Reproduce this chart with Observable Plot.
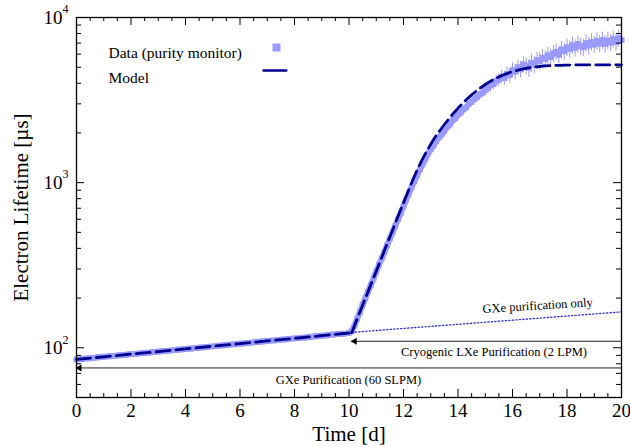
<!DOCTYPE html>
<html><head><meta charset="utf-8">
<script src="https://cdn.jsdelivr.net/npm/d3@7"></script>
<script src="https://cdn.jsdelivr.net/npm/@observablehq/plot@0.6"></script>
<style>body{margin:0;background:#fff} svg{display:block}</style>
</head><body><div id="chart"></div>
<script>
// ---- Data (purity monitor), GXe-only phase ----
const earlyTime = [0,0.2,0.4,0.6,0.8,1.0,1.2,1.4,1.6,1.8,2.0,2.2,2.4,2.6,2.8,3.0,3.2,3.4,3.6,3.8,4.0,4.2,4.4,4.6,4.8,5.0,5.2,5.4,5.6,5.8,6.0,6.2,6.4,6.6,6.8,7.0,7.2,7.4,7.6,7.8,8.0,8.2,8.4,8.6,8.8,9.0,9.2,9.4,9.6,9.8];
const earlyLifetime = [85.0,85.5,86.3,86.8,87.6,88.2,88.8,89.4,90.2,90.7,91.5,92.0,92.8,93.4,94.1,94.8,95.6,96.1,96.9,97.6,98.4,99.0,99.8,100.5,101.3,102.0,102.8,103.5,104.4,105.0,105.9,106.6,107.4,108.3,109.0,109.8,110.7,111.4,112.3,113.1,114.0,114.8,115.6,116.5,117.4,118.3,119.0,120.2,121.0,121.5];

// ---- Data (purity monitor), with cryogenic LXe purification ----
const lateTime = [10.0,10.1,10.2,10.3,10.4,10.5,10.6,10.7,10.8,10.9,11.0,11.1,11.2,11.3,11.4,11.5,11.6,11.7,11.8,11.9,12.0,12.1,12.2,12.3,12.4,12.5,12.6,12.7,12.8,12.9,13.0,13.1,13.2,13.3,13.4,13.5,13.6,13.7,13.8,13.9,14.0,14.1,14.2,14.3,14.4,14.5,14.6,14.7,14.8,14.9,15.0,15.1,15.2,15.3,15.4,15.5,15.6,15.7,15.8,15.9,16.0,16.1,16.2,16.3,16.4,16.5,16.6,16.7,16.8,16.9,17.0,17.1,17.2,17.3,17.4,17.5,17.6,17.7,17.8,17.9,18.0,18.1,18.2,18.3,18.4,18.5,18.6,18.7,18.8,18.9,19.0,19.1,19.2,19.3,19.4,19.5,19.6,19.7,19.8,19.9,20.0];
const lateLifetime = [123,126,136,150,165,182,200,219,240,263,290,318,347,380,418,458,500,548,600,655,720,790,860,940,1020,1110,1200,1290,1390,1500,1590,1680,1780,1880,1960,2060,2170,2250,2380,2450,2580,2650,2780,2850,3000,3080,3200,3300,3420,3500,3650,3720,3900,3950,4150,4200,4380,4300,4550,4480,4800,4700,5000,4850,5200,5100,4950,5300,5200,5500,5450,5700,5600,5900,5750,6050,6200,5950,6400,6250,6600,6450,6800,6550,6900,6700,6600,7000,6750,7100,6850,7200,6950,7300,6900,7250,7050,7400,7100,7500,7300];
const lateError = [3,3,3,4,4,5,5,6,6,7,8,9,10,11,12,13,15,16,18,20,22,24,26,28,31,33,36,39,42,45,48,50,53,56,59,62,65,68,71,74,80,85,90,100,110,120,130,150,170,190,210,240,270,300,330,360,400,420,450,470,500,520,540,560,580,600,610,640,620,660,650,680,670,700,690,720,740,710,760,750,790,770,810,780,830,800,790,840,810,850,820,860,830,870,830,870,850,890,850,900,880];

// ---- Model ----
const modelEarlyTime = [0,1,2,3,4,5,6,7,8,9,10,10.1];
const modelEarlyLifetime = [85,88.2,91.5,94.9,98.5,102.2,106.0,110.0,114.1,118.4,122.9,123.5];
const modelLateTime = [10.1,10.5,11.0,11.5,12.0,12.5,13.0,13.5,14.0,14.5,15.0,15.5,16.0,16.5,17.0,17.5,18.0,18.5,19.0,19.5,20.0];
const modelLateLifetime = [123.5,181,291,469,755,1190,1710,2250,2820,3400,3930,4370,4700,4920,5050,5120,5150,5165,5170,5170,5170];

// ---- GXe purification only (extrapolation) ----
const gxeOnlyTime = [10.1, 20];
const gxeOnlyLifetime = [124, 165];

// ---- Purification arrows ----
const arrowLabels = ["Cryogenic LXe Purification (2 LPM)", "GXe Purification (60 SLPM)"];
const arrowStart = [20, 20];
const arrowEnd = [10.1, 0];
const arrowLevel = [109.5, 75.5];
const arrowLabelTime = [15.32, 9.98];
const arrowLabelLevel = [94.5, 63.8];

const gxeOnlyLabel = "GXe purification only";
const gxeOnlyLabelTime = 16.92;
const gxeOnlyLabelLevel = 180;

// ---- Ticks ----
const xTicks = [0,2,4,6,8,10,12,14,16,18,20];
const xMinorTicks = d3.range(0.5, 20, 0.5).filter(v => v % 2 !== 0);
const yTicks = [100, 1000, 10000];
const yTickExponents = ["2", "3", "4"];
const yMinorTicks = [60,70,80,90,200,300,400,500,600,700,800,900,2000,3000,4000,5000,6000,7000,8000,9000];

const legendLabels = ["Data (purity monitor)", "Model"];

const early = earlyTime.map((t, i) => ({t, v: earlyLifetime[i]}));
const late = lateTime.map((t, i) => ({t, v: lateLifetime[i], e: lateError[i]}));
const modelEarly = modelEarlyTime.map((t, i) => ({t, v: modelEarlyLifetime[i]}));
const modelLate = modelLateTime.map((t, i) => ({t, v: modelLateLifetime[i]}));
const gxeOnly = gxeOnlyTime.map((t, i) => ({t, v: gxeOnlyLifetime[i]}));
const arrows = arrowLabels.map((label, i) => ({label, x1: arrowStart[i], x2: arrowEnd[i], y: arrowLevel[i], lx: arrowLabelTime[i], ly: arrowLabelLevel[i]}));

const W = 630, H = 447, mL = 76, mR = 9, mT = 17, mB = 50;
const fw = W - mL - mR, fh = H - mT - mB;
const dataColor = "#9a9aff", modelColor = "#00008f";

const chart = Plot.plot({
  width: W, height: H,
  marginLeft: mL, marginRight: mR, marginTop: mT, marginBottom: mB,
  style: {fontFamily: "'Liberation Serif', 'Times New Roman', serif", background: "#fff", color: "#000"},
  x: {domain: [0, 20], axis: null},
  y: {type: "log", domain: [50, 10000], axis: null},
  marks: [
    // data band
    Plot.ruleX(late, {x: "t", y1: d => d.v - d.e, y2: d => d.v + d.e, stroke: dataColor, strokeWidth: 1}),
    Plot.line(early, {x: "t", y: "v", stroke: dataColor, strokeWidth: 6}),
    Plot.line(late, {x: "t", y: "v", stroke: dataColor, strokeWidth: 6}),
    Plot.dot(early, {x: "t", y: "v", symbol: "square", r: 3.2, fill: dataColor}),
    Plot.dot(late, {x: "t", y: "v", symbol: "square", r: 3.2, fill: dataColor}),
    // extrapolation
    Plot.line(gxeOnly, {x: "t", y: "v", stroke: "#3030d0", strokeWidth: 1.3, strokeDasharray: "1.3,2.2"}),
    // model
    Plot.line(modelEarly, {x: "t", y: "v", stroke: modelColor, strokeWidth: 2.8, strokeDasharray: "14,6"}),
    Plot.line(modelLate, {x: "t", y: "v", stroke: modelColor, strokeWidth: 2.8, strokeDasharray: "14,6", curve: "monotone-x"}),
    // arrows
    Plot.ruleY(arrows, {y: "y", x1: "x1", x2: "x2", stroke: "#222", strokeWidth: 1}),
    Plot.dot(arrows, {x: "x2", y: "y", symbol: "triangle", rotate: -90, r: 2.6, fill: "#000", dx: 3}),
    Plot.text(arrows, {x: "lx", y: "ly", text: "label", fontSize: 12.5, fill: "#000"}),
    Plot.text([gxeOnlyLabel], {x: () => gxeOnlyLabelTime, y: () => gxeOnlyLabelLevel, text: d => d, fontSize: 12.5, rotate: -3.5, fill: "#000"}),
    // legend
    Plot.text([legendLabels[0]], {frameAnchor: "top-left", dx: 32, dy: 29, text: d => d, textAnchor: "start", fontSize: 15.5}),
    Plot.text([legendLabels[1]], {frameAnchor: "top-left", dx: 32, dy: 54, text: d => d, textAnchor: "start", fontSize: 15.5}),
    Plot.dot([0], {frameAnchor: "top-left", dx: 200, dy: 30, symbol: "square", r: 4.5, fill: dataColor}),
    Plot.vector([0], {frameAnchor: "top-left", dx: 186, dy: 53, shape: "spike", r: 0, length: 24, rotate: 90, anchor: "start", stroke: modelColor, fill: "none", strokeWidth: 2.3, strokeLinecap: "butt"}),
    // ticks (inward, all four sides)
    Plot.ruleX(xTicks, {x: d => d, insetTop: fh - 8, stroke: "#000"}),
    Plot.ruleX(xTicks, {x: d => d, insetBottom: fh - 8, stroke: "#000"}),
    Plot.ruleX(xMinorTicks, {x: d => d, insetTop: fh - 4, stroke: "#000"}),
    Plot.ruleX(xMinorTicks, {x: d => d, insetBottom: fh - 4, stroke: "#000"}),
    Plot.ruleY(yTicks, {y: d => d, insetRight: fw - 8, stroke: "#000"}),
    Plot.ruleY(yTicks, {y: d => d, insetLeft: fw - 8, stroke: "#000"}),
    Plot.ruleY(yMinorTicks, {y: d => d, insetRight: fw - 5, stroke: "#000"}),
    Plot.ruleY(yMinorTicks, {y: d => d, insetLeft: fw - 5, stroke: "#000"}),
    Plot.frame({stroke: "#000", strokeWidth: 1.3}),
    // tick labels
    Plot.text(xTicks, {x: d => d, frameAnchor: "bottom", dy: 13, text: d => String(d), fontSize: 19, lineAnchor: "middle", textAnchor: "middle"}),
    Plot.text(yTicks, {y: d => d, frameAnchor: "left", dx: -14, text: () => "10", textAnchor: "end", fontSize: 19, lineAnchor: "middle"}),
    Plot.text(yTicks, {y: d => d, frameAnchor: "left", dx: -14, dy: -8, text: (d, i) => yTickExponents[i], textAnchor: "start", fontSize: 12, lineAnchor: "middle"}),
    // axis titles
    Plot.text(["Time [d]"], {frameAnchor: "bottom", dy: 37, text: d => d, fontSize: 21, lineAnchor: "middle", textAnchor: "middle"}),
    Plot.text(["Electron Lifetime [µs]"], {frameAnchor: "left", dx: -55, text: d => d, fontSize: 21, rotate: -90, lineAnchor: "middle", textAnchor: "middle"})
  ]
});
document.getElementById("chart").appendChild(chart);
</script>
</body></html>
